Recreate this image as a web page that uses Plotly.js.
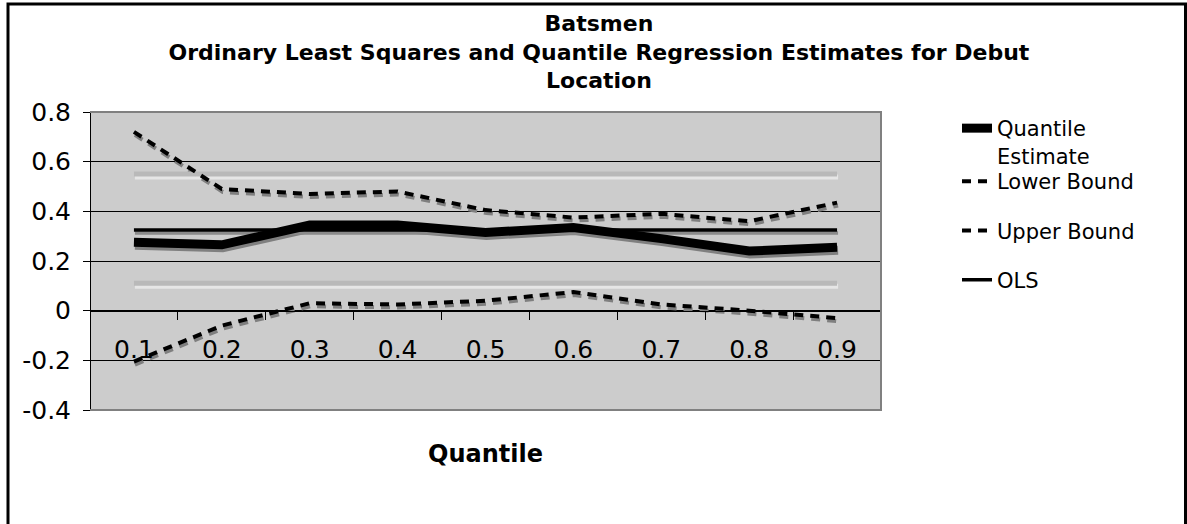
<!DOCTYPE html>
<html>
<head>
<meta charset="utf-8">
<script src="https://cdn.plot.ly/plotly-3.0.1.min.js"></script>
<style>
  html, body { margin: 0; padding: 0; background: #ffffff; }
  #chart { width: 1187px; height: 524px; }
</style>
</head>
<body>
<div id="chart"></div>
<script>
// ---- data ----
var quantiles = ['0.1', '0.2', '0.3', '0.4', '0.5', '0.6', '0.7', '0.8', '0.9'];
var quantileEstimate = [0.275, 0.265, 0.345, 0.345, 0.315, 0.335, 0.29, 0.24, 0.255];
var lowerBound = [-0.205, -0.06, 0.03, 0.025, 0.04, 0.075, 0.025, 0.0, -0.03];
var upperBound = [0.72, 0.49, 0.47, 0.48, 0.405, 0.375, 0.39, 0.36, 0.435];
var ols = [0.325, 0.325, 0.325, 0.325, 0.325, 0.325, 0.325, 0.325, 0.325];
var olsUpperBand = [0.55, 0.55, 0.55, 0.55, 0.55, 0.55, 0.55, 0.55, 0.55];
var olsLowerBand = [0.11, 0.11, 0.11, 0.11, 0.11, 0.11, 0.11, 0.11, 0.11];

var yTickVals = [-0.4, -0.2, 0, 0.2, 0.4, 0.6, 0.8];
var yTickText = ['-0.4', '-0.2', '0', '0.2', '0.4', '0.6', '0.8'];

var chartTitle = 'Batsmen<br>Ordinary Least Squares and Quantile Regression Estimates for Debut<br>Location';
var xTitle = 'Quantile';
var names = ['Quantile<br>Estimate', 'Lower Bound', 'Upper Bound', 'OLS'];

// ---- styling ----
var FONT = 'DejaVu Sans, Verdana, sans-serif';
var yRange = [-0.4, 0.8];
var xRange = [-0.5, 8.5];
var plotH = 298, plotW = 791;
var shadowDy = 3 * (yRange[1] - yRange[0]) / plotH;   // 3px down
var shadowDx = 1 * (xRange[1] - xRange[0]) / plotW;   // 1px right
var dash = '9px,7px';

function shadow(y, color, width, d) {
  return { x: quantiles, y: y, xaxis: 'x', yaxis: 'y', type: 'scatter', mode: 'lines',
    line: { color: color, width: width, dash: d || 'solid' }, showlegend: false, hoverinfo: 'skip' };
}
function main(y, name, width, d, show, color, lg) {
  return { x: quantiles, y: y, xaxis: 'x2', yaxis: 'y2', type: 'scatter', mode: 'lines', name: name,
    legendgroup: name, legend: lg || 'legend',
    line: { color: color || '#000000', width: width, dash: d || 'solid' },
    showlegend: show, hoverinfo: 'skip' };
}

var data = [
  shadow(olsUpperBand, '#e6e6e6', 5),
  shadow(olsLowerBand, '#e6e6e6', 5),
  shadow(quantileEstimate, '#7f7f7f', 9),
  shadow(lowerBound, '#7f7f7f', 4, dash),
  shadow(upperBound, '#7f7f7f', 4, dash),
  shadow(ols, '#8a8a8a', 3.5),
  main(olsUpperBand, 'band1', 5, 'solid', false, '#b9b9b9'),
  main(olsLowerBand, 'band2', 5, 'solid', false, '#b9b9b9'),
  main(quantileEstimate, names[0], 9, 'solid', true, '#000000', 'legend'),
  main(lowerBound, names[1], 4, dash, true, '#000000', 'legend2'),
  main(upperBound, names[2], 4, dash, true, '#000000', 'legend2'),
  main(ols, names[3], 3.5, 'solid', true, '#000000', 'legend2')
];

var legendFont = { family: FONT, size: 21, color: '#000000' };

var layout = {
  width: 1187, height: 524,
  margin: { l: 90, r: 306, t: 112, b: 114, pad: 0 },
  paper_bgcolor: '#ffffff',
  plot_bgcolor: '#cccccc',
  font: { family: FONT, color: '#000000' },
  showlegend: true,
  title: {
    text: chartTitle,
    font: { family: FONT, size: 22, color: '#000000', weight: 'bold' },
    x: 0.5046, xanchor: 'center', xref: 'container',
    y: 1 - 31 / 524, yanchor: 'top', yref: 'container'
  },
  xaxis: {
    type: 'category', range: [xRange[0] - shadowDx, xRange[1] - shadowDx],
    visible: false, fixedrange: true
  },
  yaxis: {
    range: [yRange[0] + shadowDy, yRange[1] + shadowDy],
    visible: false, fixedrange: true
  },
  xaxis2: {
    type: 'category', overlaying: 'x', anchor: 'free', position: 1 / 3,
    range: xRange, showgrid: false, zeroline: false,
    showline: true, linecolor: '#000000', linewidth: 1,
    ticks: 'outside', tickson: 'boundaries', ticklen: 8, tickcolor: '#000000', tickwidth: 1,
    ticklabelstandoff: 16,
    tickfont: { family: FONT, size: 25, color: '#000000' },
    title: { text: xTitle, font: { family: FONT, size: 24, color: '#000000', weight: 'bold' }, standoff: 82 },
    automargin: false, fixedrange: true
  },
  yaxis2: {
    overlaying: 'y', anchor: 'free', position: 0,
    range: yRange, tickmode: 'array', tickvals: yTickVals, ticktext: yTickText,
    showgrid: true, gridcolor: '#000000', gridwidth: 1, zeroline: false,
    showline: true, linecolor: '#000000', linewidth: 1,
    ticks: 'outside', ticklen: 7, tickcolor: '#000000', tickwidth: 1,
    ticklabelstandoff: 7,
    tickfont: { family: FONT, size: 25, color: '#000000' },
    automargin: false, fixedrange: true
  },
  legend: {
    x: 957 / 1187, xref: 'container', xanchor: 'left',
    y: 1 - 108 / 524, yref: 'container', yanchor: 'top',
    font: legendFont, bgcolor: 'rgba(0,0,0,0)', borderwidth: 0,
    valign: 'top', itemclick: false, itemdoubleclick: false
  },
  legend2: {
    x: 957 / 1187, xref: 'container', xanchor: 'left',
    y: 1 - 161 / 524, yref: 'container', yanchor: 'top',
    font: legendFont, bgcolor: 'rgba(0,0,0,0)', borderwidth: 0,
    tracegroupgap: 19, valign: 'top', itemclick: false, itemdoubleclick: false
  },
  shapes: [
    { type: 'path', xref: 'paper', yref: 'paper', path: 'M0,1H1V0H0',
      line: { color: '#808080', width: 2 }, layer: 'above' },
    { type: 'rect', xref: 'paper', yref: 'paper',
      x0: (8 - 90) / plotW, x1: (1185.5 - 90) / plotW,
      y0: (410 - 560) / plotH, y1: (410 - 4) / plotH,
      line: { color: '#000000', width: 3 }, fillcolor: 'rgba(0,0,0,0)', layer: 'above' }
  ]
};

Plotly.newPlot('chart', data, layout, { displayModeBar: false, staticPlot: true });
</script>
</body>
</html>
